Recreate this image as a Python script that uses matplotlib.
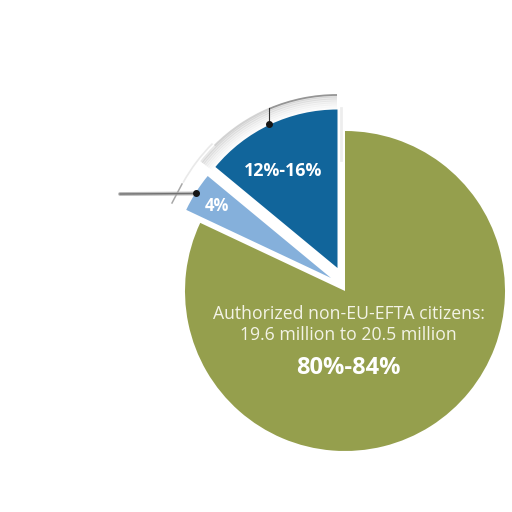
import numpy as np
import matplotlib
matplotlib.use("Agg")
import matplotlib.pyplot as plt
from matplotlib.patches import Arc

shares = [82, 4, 14]
names = ["Authorized", "Other", "Unauthorized"]
colors = ["#959f4d", "#85b0db", "#11659b"]
main_label = "Authorized non-EU-EFTA citizens:\n19.6 million to 20.5 million"
main_share = "80%-84%"
blue_share = "12%-16%"
light_share = "4%"

fig = plt.figure(figsize=(5.12, 5.12), dpi=100, facecolor="white")
ax = fig.add_axes([0, 0, 1, 1])

def Y(y):
    return 512 - y

wedges, _ = ax.pie(shares, colors=colors, startangle=90, counterclock=False,
                   radius=160, center=(345, Y(291)))
wedges[2].set_center((337.5, Y(268)))
wedges[2].set_radius(158.5)
wedges[1].set_center((331, Y(278)))
wedges[1].set_radius(160)

# soft grey halo behind the upper wedges
c = (337, Y(268))
for d, a in [(14, 0.16), (12, 0.14), (10, 0.10), (8, 0.07), (6, 0.05), (4, 0.03), (2, 0.02)]:
    ax.add_patch(Arc(c, 2 * (158 + d), 2 * (158 + d), theta1=90, theta2=142,
                     lw=2.2, color="#707070", alpha=a, zorder=1))
ax.add_patch(Arc(c, 346, 346, theta1=90, theta2=113, lw=1.3, color="#8c8c8c", alpha=0.9, zorder=2))
ax.add_patch(Arc(c, 346, 346, theta1=113, theta2=135, lw=1.5, color="#c8c8c8", alpha=0.7, zorder=2))
ax.add_patch(Arc(c, 352, 352, theta1=135, theta2=151, lw=1.2, color="#e0e0e0", alpha=0.7, zorder=2))
ax.plot([340.5, 340.5], [Y(108), Y(160)], color="#dcdcdc", lw=2.0, alpha=0.5, zorder=1)

# leader lines and slash
ax.plot([269, 269], [Y(108), Y(124)], color="#333333", lw=0.8, zorder=4)
ax.plot([120, 196], [Y(194), Y(193.5)], color="#bcbcbc", lw=2.8, zorder=3, solid_capstyle="round")
ax.plot([120, 196], [Y(194), Y(193.5)], color="#707070", lw=1.0, zorder=4)
ax.plot([172, 182], [Y(203), Y(184)], color="#a8a8a8", lw=1.1, zorder=3)
ax.plot([269, 196], [Y(124), Y(193)], ls="none", marker="o", ms=4, color="#151515", zorder=5)

font = "Open Sans"
ax.text(348.5, Y(324.5), main_label, color="#f3f3e6", ha="center", va="center",
        fontsize=12.7, family=font, linespacing=1.25, zorder=6)
ax.text(348.5, Y(367.5), main_share, color="white", ha="center", va="center",
        fontsize=17, family=font, fontweight="bold", zorder=6)
ax.text(283.5, Y(171), blue_share, color="white", ha="center", va="center",
        fontsize=12.8, family=font, fontweight="bold", zorder=6)
ax.text(217, Y(206), light_share, color="white", ha="center", va="center",
        fontsize=12, family=font, fontweight="bold", zorder=6)

ax.set_xlim(0, 512)
ax.set_ylim(0, 512)
ax.set_aspect("equal")
ax.axis("off")
fig.savefig("out.png", dpi=100, facecolor="white")
